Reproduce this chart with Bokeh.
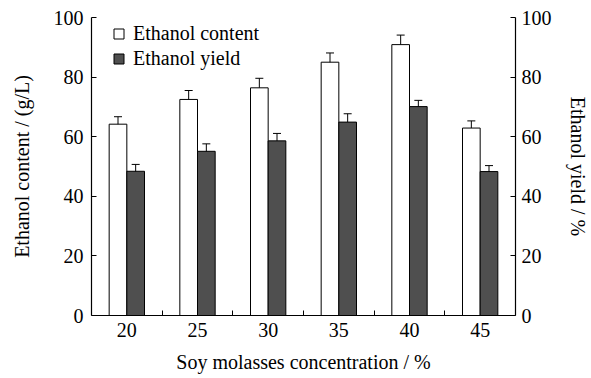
import numpy as np
from bokeh.plotting import figure
from bokeh.models import (Range1d, LinearAxis, FixedTicker, ColumnDataSource,
                          Whisker, TeeHead, Legend, LegendItem)
from bokeh.embed import file_html
from bokeh.resources import INLINE

# ---- data ----
concentrations = ["20", "25", "30", "35", "40", "45"]
ethanol_content = [64.2, 72.5, 76.4, 85.0, 90.9, 62.9]
content_err = [2.5, 3.0, 3.2, 3.1, 3.2, 2.4]
ethanol_yield = [48.4, 55.1, 58.6, 64.9, 70.1, 48.3]
yield_err = [2.3, 2.5, 2.5, 2.8, 2.1, 2.0]
y_ticks = [0, 20, 40, 60, 80, 100]

FONT = "Liberation Serif"
FS = "20px"
DARK = "#4f4f4f"

n = len(concentrations)
xc = np.arange(n) + 0.5
bw = 0.25

src_c = ColumnDataSource(dict(x=xc - bw / 2, top=ethanol_content,
                              upper=np.array(ethanol_content) + np.array(content_err),
                              lower=np.array(ethanol_content) - np.array(content_err)))
src_y = ColumnDataSource(dict(x=xc + bw / 2, top=ethanol_yield,
                              upper=np.array(ethanol_yield) + np.array(yield_err),
                              lower=np.array(ethanol_yield) - np.array(yield_err)))

p = figure(width=591, height=378, output_backend="svg", toolbar_location=None,
           x_range=Range1d(0, n), y_range=Range1d(0, 100),
           min_border_left=91, min_border_right=70, min_border_top=17, min_border_bottom=63)
p.extra_y_ranges = {"yield": Range1d(0, 100)}
p.outline_line_color = None
p.grid.visible = False
p.background_fill_color = "white"
p.border_fill_color = "white"

r_c = p.vbar(x="x", top="top", width=bw, source=src_c, fill_color="white",
             line_color="black", line_width=1)
r_y = p.vbar(x="x", top="top", width=bw, source=src_y, fill_color=DARK,
             line_color="black", line_width=1, y_range_name="yield")

for src, rng in ((src_c, "default"), (src_y, "yield")):
    w = Whisker(source=src, base="x", upper="upper", lower="lower",
                line_color="black", line_width=1,
                upper_head=TeeHead(size=8, line_color="black", line_width=1),
                lower_head=TeeHead(size=8, line_color="black", line_width=1))
    if rng == "yield":
        w.y_range_name = "yield"
    p.add_layout(w)

# x axis
xa = p.xaxis[0]
xa.ticker = FixedTicker(ticks=list(xc), minor_ticks=list(np.arange(1, n)))
xa.major_label_overrides = {float(v): c for v, c in zip(xc, concentrations)}
xa.minor_tick_in = 5
xa.minor_tick_out = 0
xa.minor_tick_line_color = "black"
xa.major_tick_in = 0
xa.major_tick_out = 0
xa.major_label_standoff = 7
xa.axis_label = "Soy molasses concentration / %"
xa.axis_label_standoff = 11

# left axis
ya = p.yaxis[0]
ya.ticker = FixedTicker(ticks=y_ticks, minor_ticks=[])
ya.major_tick_in = 5
ya.major_tick_out = 0
ya.major_label_standoff = 8
ya.axis_label = "Ethanol content / (g/L)"
ya.axis_label_standoff = 18

# right axis
ra = LinearAxis(y_range_name="yield", ticker=FixedTicker(ticks=y_ticks, minor_ticks=[]),
                axis_label="Ethanol yield / %")
ra.major_tick_in = 5
ra.major_tick_out = 0
ra.major_label_standoff = 6
ra.axis_label_standoff = 12
p.add_layout(ra, "right")

for ax in (xa, ya, ra):
    ax.axis_line_color = "black"
    ax.axis_line_width = 1.2
    ax.major_tick_line_color = None if ax is xa else "black"
    ax.major_label_text_font = FONT
    ax.major_label_text_font_size = FS
    ax.major_label_text_color = "black"
    ax.axis_label_text_font = FONT
    ax.axis_label_text_font_size = FS
    ax.axis_label_text_font_style = "normal"
    ax.axis_label_text_color = "black"

# legend proxies: zero-size markers sitting on the bar tops (only their legend glyph shows)
leg_c = p.scatter(x="x", y="top", source=src_c, size=0, marker="square",
                  fill_color="white", line_color="black")
leg_y = p.scatter(x="x", y="top", source=src_y, size=0, marker="square",
                  fill_color=DARK, line_color="black", y_range_name="yield")
legend = Legend(items=[LegendItem(label="Ethanol content", renderers=[leg_c], index=0),
                       LegendItem(label="Ethanol yield", renderers=[leg_y], index=0)],
                location=(15, 244), orientation="vertical",
                glyph_width=25, glyph_height=25, label_height=25, spacing=0,
                padding=0, margin=0, label_standoff=2,
                label_text_font=FONT, label_text_font_size=FS, label_text_color="black",
                border_line_color=None, background_fill_alpha=0)
p.add_layout(legend)

open("out.html", "w").write(file_html(p, INLINE))
